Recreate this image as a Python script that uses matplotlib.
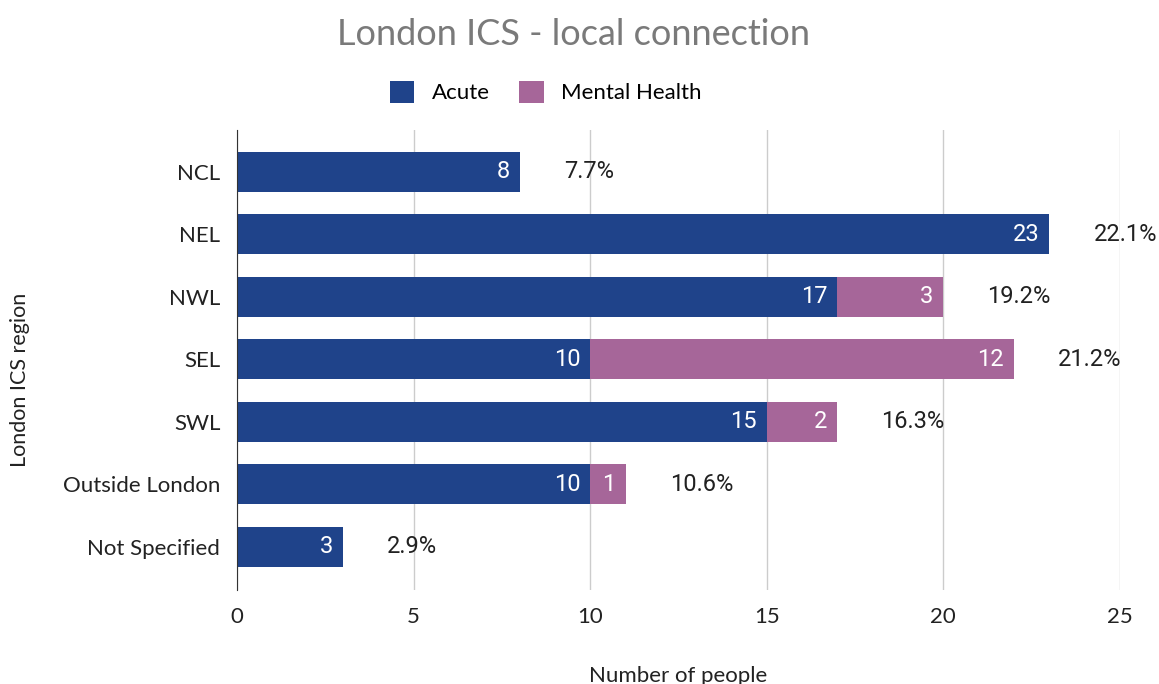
import matplotlib.pyplot as plt
import numpy as np

regions = ["NCL", "NEL", "NWL", "SEL", "SWL", "Outside London", "Not Specified"]
acute = [8, 23, 17, 10, 15, 10, 3]
mental = [0, 0, 3, 12, 2, 1, 0]
pct_labels = ["7.7%", "22.1%", "19.2%", "21.2%", "16.3%", "10.6%", "2.9%"]

c_acute = "#1f438a"
c_mental = "#a66699"

fig = plt.figure(figsize=(11.59, 6.84), dpi=100)
ax = fig.add_axes([0.2045, 0.1374, 0.7618, 0.6726])

y = np.arange(len(regions))
ax.barh(y, acute, height=0.64, color=c_acute, label="Acute", zorder=3)
ax.barh(y, mental, left=acute, height=0.64, color=c_mental, label="Mental Health", zorder=3)

for i in range(len(regions)):
    ax.text(acute[i] - 0.28, i, str(acute[i]), ha="right", va="center",
            color="white", fontsize=17, family="Roboto", zorder=4)
    if mental[i] > 0:
        ax.text(acute[i] + mental[i] - 0.28, i, str(mental[i]), ha="right", va="center",
                color="white", fontsize=17, family="Roboto", zorder=4)
    ax.text(acute[i] + mental[i] + 1.25, i, pct_labels[i], ha="left", va="center",
            color="#212121", fontsize=17, family="Roboto", clip_on=False)

ax.set_xlim(0, 25)
ax.set_ylim(6.69, -0.67)
ax.set_yticks(y)
ax.set_yticklabels(regions, fontsize=16, family="Lato", color="#222222")
ax.set_xticks([0, 5, 10, 15, 20, 25])
ax.tick_params(axis="x", labelsize=16, length=0, pad=12, labelcolor="#222222")
ax.tick_params(axis="y", length=0, pad=12)
for lab in ax.get_xticklabels():
    lab.set_family("Lato")

ax.grid(axis="x", color="#cccccc", linewidth=1, zorder=0)
for s in ["top", "right", "bottom"]:
    ax.spines[s].set_visible(False)
ax.spines["left"].set_color("#333333")
ax.spines["left"].set_zorder(5)

ax.set_xlabel("Number of people", fontsize=16, family="Lato", color="#222222", labelpad=28)
fig.text(20 / 1159, 1 - 380 / 684, "London ICS region", rotation=90, ha="center", va="center",
         fontsize=15.5, family="Lato", color="#222222")

fig.text(0.495, 0.949, "London ICS - local connection", ha="center", va="center",
         fontsize=26, family="Lato", color="#7a7a7a")
fig.legend(loc="center", bbox_to_anchor=(0.471, 0.865), ncol=2, frameon=False,
           prop={"family": "Lato", "size": 16}, handlelength=1.1, handleheight=1.1,
           columnspacing=1.3, handletextpad=0.8)

fig.savefig("out.png", dpi=100)
